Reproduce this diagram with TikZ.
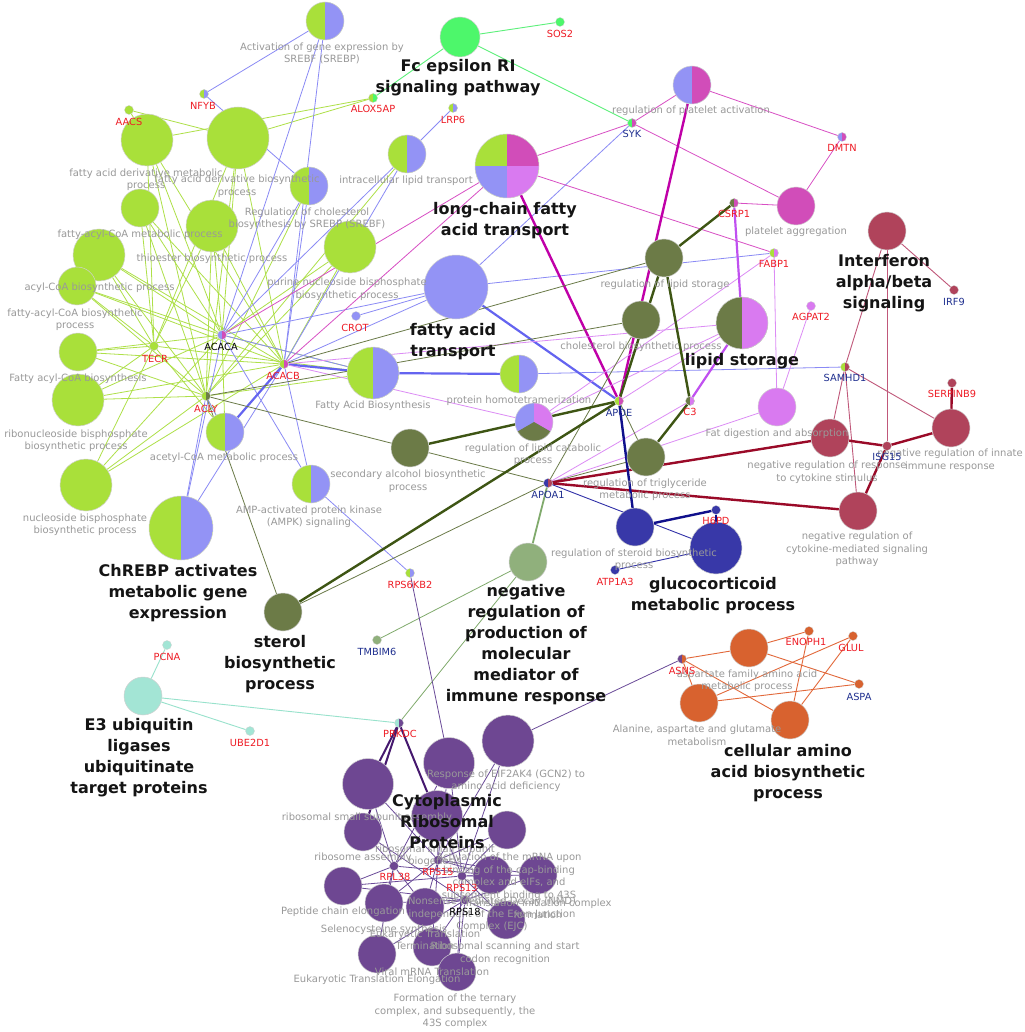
\documentclass[tikz,border=0pt]{standalone}
\usepackage{fontspec}
\setmainfont{DejaVu Sans}
\usetikzlibrary{calc}
\definecolor{cLime}{HTML}{A9E03A}
\definecolor{cPeri}{HTML}{9393F5}
\definecolor{cMag}{HTML}{D14DB9}
\definecolor{cOrch}{HTML}{D97AF0}
\definecolor{cOlive}{HTML}{6C7B47}
\definecolor{cFce}{HTML}{4DF76B}
\definecolor{cMar}{HTML}{B0435B}
\definecolor{cDblue}{HTML}{3838A8}
\definecolor{cSage}{HTML}{90B07C}
\definecolor{cOrange}{HTML}{D8622F}
\definecolor{cPurp}{HTML}{6E4792}
\definecolor{cMint}{HTML}{A3E5D5}
\definecolor{labgray}{HTML}{999999}
\definecolor{genered}{HTML}{EE1C25}
\definecolor{geneblue}{HTML}{1F2F8F}
\definecolor{lnLime}{HTML}{AEE048}
\definecolor{lnPeri}{HTML}{8A8AF5}
\definecolor{lnPeriK}{HTML}{6464F0}
\definecolor{lnMag}{HTML}{D84FC4}
\definecolor{lnMagK}{HTML}{C000A8}
\definecolor{lnOrch}{HTML}{DC8CF5}
\definecolor{lnOrchK}{HTML}{C050F0}
\definecolor{lnOlive}{HTML}{6A7A48}
\definecolor{lnOliveK}{HTML}{3E5514}
\definecolor{lnMar}{HTML}{C0587A}
\definecolor{lnMarK}{HTML}{9A0A28}
\definecolor{lnBlue}{HTML}{3030A8}
\definecolor{lnBlueK}{HTML}{10108C}
\definecolor{lnSage}{HTML}{80AA6C}
\definecolor{lnMint}{HTML}{98E2CC}
\definecolor{lnPur}{HTML}{6A4A98}
\definecolor{lnPurK}{HTML}{45186E}
\definecolor{lnOrange}{HTML}{E2683A}
\definecolor{lnFce}{HTML}{5CF07A}
\pgfdeclarelayer{bg}
\pgfdeclarelayer{edges}
\pgfdeclarelayer{labels}
\pgfsetlayers{bg,edges,main,labels}
\begin{document}
\begin{tikzpicture}[x=1pt,y=-1pt,
  term/.style={circle,inner sep=0pt,draw=black!18,line width=0.5pt},
  gene/.style={circle,inner sep=0pt,minimum size=9pt,draw=black!18,line width=0.3pt},
  halves/.style 2 args={fill=#1,path picture={\fill[#2] (path picture bounding box.north) rectangle (path picture bounding box.south east);}},
  glab/.style={font=\fontsize{10}{12.5}\selectfont,text=labgray,align=center,inner sep=0pt},
  blab/.style={font=\fontsize{16}{21}\selectfont\bfseries,text=black!92,align=center,inner sep=0pt},
  rlab/.style={font=\fontsize{9.8}{11}\selectfont,text=genered,inner sep=0pt},
  nlab/.style={font=\fontsize{9.8}{11}\selectfont,text=geneblue,inner sep=0pt},
  klab/.style={font=\fontsize{9.8}{11}\selectfont,text=black,inner sep=0pt},
  eLime/.style={draw=lnLime,line width=0.8pt},
  ePeri/.style={draw=lnPeri,line width=0.8pt},
  ePeriK/.style={draw=lnPeriK,line width=2.2pt},
  eMag/.style={draw=lnMag,line width=0.8pt},
  eMagK/.style={draw=lnMagK,line width=2.4pt},
  eOrch/.style={draw=lnOrch,line width=0.8pt},
  eOrchK/.style={draw=lnOrchK,line width=2.2pt},
  eOlive/.style={draw=lnOlive,line width=0.8pt},
  eOliveK/.style={draw=lnOliveK,line width=2.4pt},
  eMar/.style={draw=lnMar,line width=0.9pt},
  eMarK/.style={draw=lnMarK,line width=2.4pt},
  eBlue/.style={draw=lnBlue,line width=0.9pt},
  eBlueK/.style={draw=lnBlueK,line width=2.4pt},
  eSage/.style={draw=lnSage,line width=0.8pt},
  eSageK/.style={draw=lnSage,line width=1.8pt},
  eMint/.style={draw=lnMint,line width=0.9pt},
  ePur/.style={draw=lnPur,line width=0.8pt},
  ePurK/.style={draw=lnPurK,line width=2.0pt},
  eOrange/.style={draw=lnOrange,line width=0.9pt},
  eFce/.style={draw=lnFce,line width=0.9pt}
]
\begin{pgfonlayer}{bg}
\fill[white] (0,0) rectangle (1024,1032);
\end{pgfonlayer}
\useasboundingbox (0,0) rectangle (1024,1032);

% ---- term nodes ----
\node[term,minimum size=38pt,halves={cLime}{cPeri}] (act) at (325,21) {};
\node[term,minimum size=40pt,fill=cFce] (fce) at (460,37) {};
\node[term,minimum size=52pt,fill=cLime] (fadm) at (147,140) {};
\node[term,minimum size=62pt,fill=cLime] (fadb) at (238,138) {};
\node[term,minimum size=38pt,halves={cLime}{cPeri}] (regchol) at (309,186) {};
\node[term,minimum size=38pt,halves={cLime}{cPeri}] (ilt) at (407,154) {};
\node[term,minimum size=64pt,fill=cLime,path picture={
  \fill[cMag] (path picture bounding box.center) rectangle (path picture bounding box.north east);
  \fill[cPeri] (path picture bounding box.center) rectangle (path picture bounding box.south west);
  \fill[cOrch] (path picture bounding box.center) rectangle (path picture bounding box.south east);}] (lcfa) at (507,166) {};
\node[term,minimum size=38pt,halves={cPeri}{cMag}] (platact) at (692,85) {};
\node[term,minimum size=38pt,fill=cMag] (platagg) at (796,206) {};
\node[term,minimum size=38pt,fill=cMar] (ifn) at (887,231) {};
\node[term,minimum size=38pt,fill=cOlive] (reglip) at (664,258) {};
\node[term,minimum size=38pt,fill=cOlive] (cholb) at (641,320) {};
\node[term,minimum size=52pt,halves={cOlive}{cOrch}] (lipst) at (742,323) {};
\node[term,minimum size=64pt,fill=cPeri] (fat) at (456,287) {};
\node[term,minimum size=52pt,fill=cLime] (purine) at (350,247) {};
\node[term,minimum size=52pt,fill=cLime] (thio) at (212,226) {};
\node[term,minimum size=38pt,fill=cLime] (facm) at (140,208) {};
\node[term,minimum size=52pt,fill=cLime] (acyl) at (99,255) {};
\node[term,minimum size=38pt,fill=cLime] (facb) at (77,286) {};
\node[term,minimum size=38pt,fill=cLime] (facbs) at (78,352) {};
\node[term,minimum size=52pt,fill=cLime] (ribo) at (78,400) {};
\node[term,minimum size=52pt,fill=cLime] (nucl) at (86,485) {};
\node[term,minimum size=52pt,halves={cLime}{cPeri}] (fab) at (373,373) {};
\node[term,minimum size=38pt,halves={cLime}{cPeri}] (pht) at (519,374) {};
\node[term,minimum size=38pt,halves={cLime}{cPeri}] (acet) at (225,432) {};
\node[term,minimum size=38pt,halves={cLime}{cPeri}] (ampk) at (311,484) {};
\node[term,minimum size=64pt,halves={cLime}{cPeri}] (chrebp) at (181,528) {};
\node[term,minimum size=38pt,fill=cOlive] (secalc) at (410,448) {};
\node[term,minimum size=38pt,fill=cPeri,path picture={
  \fill[cOrch] (path picture bounding box.center) -- ++(0,-40) -- ++(40,0) -- ++(0,63.09) -- cycle;
  \fill[cOlive] (path picture bounding box.center) -- ++(40,23.09) -- ++(0,16.91) -- ++(-80,0) -- ++(0,-16.91) -- cycle;}] (lipcat) at (534,422) {};
\node[term,minimum size=38pt,fill=cOrch] (fatdig) at (777,407) {};
\node[term,minimum size=38pt,fill=cMar] (nrrc) at (830,438) {};
\node[term,minimum size=38pt,fill=cMar] (nrii) at (951,428) {};
\node[term,minimum size=38pt,fill=cMar] (nrcm) at (858,511) {};
\node[term,minimum size=38pt,fill=cOlive] (trig) at (646,457) {};
\node[term,minimum size=38pt,fill=cDblue] (steroid) at (635,527) {};
\node[term,minimum size=52pt,fill=cDblue] (gluco) at (716,548) {};
\node[term,minimum size=38pt,fill=cSage] (nrpm) at (528,562) {};
\node[term,minimum size=38pt,fill=cOlive] (sterol) at (283,612) {};
\node[term,minimum size=38pt,fill=cMint] (e3) at (143,696) {};
\node[term,minimum size=38pt,fill=cOrange] (aspf) at (749,648) {};
\node[term,minimum size=38pt,fill=cOrange] (ala) at (699,703) {};
\node[term,minimum size=38pt,fill=cOrange] (caab) at (790,720) {};
% ribosomal
\node[term,minimum size=51pt,fill=cPurp] (ribA) at (368,784) {};
\node[term,minimum size=51pt,fill=cPurp] (ribB) at (449,763) {};
\node[term,minimum size=52pt,fill=cPurp] (ribC) at (508,741) {};
\node[term,minimum size=51pt,fill=cPurp] (ribD) at (437,816) {};
\node[term,minimum size=38pt,fill=cPurp] (ribE) at (363,832) {};
\node[term,minimum size=38pt,fill=cPurp] (ribF) at (507,830) {};
\node[term,minimum size=38pt,fill=cPurp] (ribG) at (343,886) {};
\node[term,minimum size=38pt,fill=cPurp] (ribH) at (384,903) {};
\node[term,minimum size=38pt,fill=cPurp] (ribI) at (425,907) {};
\node[term,minimum size=38pt,fill=cPurp] (ribJ) at (492,875) {};
\node[term,minimum size=38pt,fill=cPurp] (ribK) at (538,875) {};
\node[term,minimum size=38pt,fill=cPurp] (ribL) at (506,920) {};
\node[term,minimum size=38pt,fill=cPurp] (ribM) at (377,954) {};
\node[term,minimum size=38pt,fill=cPurp] (ribN) at (432,947) {};
\node[term,minimum size=38pt,fill=cPurp] (ribO) at (457,972) {};

% ---- gene nodes ----
\node[gene,fill=cFce] (sos2) at (560,22) {};
\node[gene,halves={cLime}{cPeri}] (nfyb) at (204,94) {};
\node[gene,fill=cLime] (aacs) at (129,110) {};
\node[gene,halves={cLime}{cFce}] (alox) at (373,98) {};
\node[gene,halves={cLime}{cPeri}] (lrp6) at (453,108) {};
\node[gene,halves={cFce}{cMag}] (syk) at (632,123) {};
\node[gene,halves={cPeri}{cMag}] (dmtn) at (842,137) {};
\node[gene,halves={cOlive}{cMag}] (csrp1) at (734,203) {};
\node[gene,halves={cLime}{cOrch}] (fabp1) at (774,253) {};
\node[gene,fill=cOrch] (agpat2) at (811,306) {};
\node[gene,fill=cMar] (irf9) at (954,290) {};
\node[gene,fill=cPeri] (crot) at (356,316) {};
\node[gene,halves={cPeri}{cMag}] (acaca) at (222,335) {};
\node[gene,fill=cLime] (tecr) at (154,346) {};
\node[gene,halves={cLime}{cMag}] (acacb) at (284,364) {};
\node[gene,halves={cLime}{cOlive}] (acly) at (206,396) {};
\node[gene,halves={cLime}{cMag}] (apoe) at (619,401) {};
\node[gene,halves={cOlive}{cOrch}] (c3) at (690,401) {};
\node[gene,halves={cLime}{cMar}] (samhd1) at (845,367) {};
\node[gene,fill=cMar] (serpinb9) at (952,383) {};
\node[gene,fill=cMar] (isg15) at (887,446) {};
\node[gene,halves={cDblue}{cMar}] (apoa1) at (548,483) {};
\node[gene,fill=cDblue] (h6pd) at (716,510) {};
\node[gene,fill=cDblue] (atp1a3) at (615,570) {};
\node[gene,halves={cLime}{cPeri}] (rps6kb2) at (410,573) {};
\node[gene,fill=cSage] (tmbim6) at (377,640) {};
\node[gene,fill=cMint] (pcna) at (167,645) {};
\node[gene,fill=cMint] (ube2d1) at (250,731) {};
\node[gene,halves={cMint}{cPurp}] (prkdc) at (399,723) {};
\node[gene,halves={cPurp}{cOrange}] (asns) at (682,659) {};
\node[gene,fill=cOrange] (enoph1) at (809,631) {};
\node[gene,fill=cOrange] (glul) at (853,636) {};
\node[gene,fill=cOrange] (aspa) at (859,684) {};
\node[gene,fill=cPurp] (rpl38) at (394,866) {};
\node[gene,fill=cPurp] (rps15) at (438,860) {};
\node[gene,fill=cPurp] (rps13) at (462,876) {};
\node[gene,fill=cPurp] (rps18) at (465,900) {};

% ---- edges ----
\begin{pgfonlayer}{edges}
\draw[eFce] (fce) -- (sos2);
\draw[eFce] (fce) -- (alox);
\draw[eFce] (fce) -- (syk);
\foreach \t in {fadm,fadb,thio,facm,acyl,facb,facbs,ribo,nucl}
  \foreach \h in {tecr,acaca,acly,acacb}
    \draw[eLime] (\t) -- (\h);
\foreach \h in {acaca,acly,acacb}
  \draw[eLime] (purine) -- (\h);
\draw[eLime] (alox) -- (fadm);
\draw[eLime] (alox) -- (fadb);
\draw[eLime] (aacs) -- (fadb);
\draw[eLime] (aacs) -- (fadm);
\draw[eLime] (acet) -- (acly);
\draw[eLime] (acet) -- (acaca);
\draw[eLime] (acet) -- (tecr);
\draw[eLime] (fab) -- (acaca);
\draw[eLime] (fab) -- (acly);
\draw[eLime] (fab) -- (tecr);
\draw[eLime] (regchol) -- (acly);
\draw[eLime] (ilt) -- (acly);
% periwinkle
\draw[ePeri] (act) -- (nfyb);
\draw[ePeri] (act) -- (acaca);
\draw[ePeri] (act) -- (acacb);
\draw[ePeri] (nfyb) -- (regchol);
\draw[ePeri] (regchol) -- (acaca);
\draw[ePeri] (regchol) -- (acacb);
\draw[ePeri] (lrp6) -- (ilt);
\draw[ePeri] (ilt) -- (acaca);
\draw[ePeri] (ilt) -- (acacb);
\draw[ePeri] (fat) -- (crot);
\draw[ePeri] (fat) -- (acaca);
\draw[ePeri] (fat) -- (acacb);
\draw[ePeri] (syk) -- (fat);
\draw[ePeri] (fat) -- (fabp1);
\draw[ePeri] (fab) -- (acaca);
\draw[ePeri] (pht) -- (samhd1);
\draw[ePeri] (acet) -- (acly);
\draw[ePeri] (chrebp) -- (acaca);
\draw[ePeri] (chrebp) -- (acly);
\draw[ePeri] (chrebp) -- (acacb);
\draw[ePeri] (ampk) -- (acaca);
\draw[ePeri] (ampk) -- (acacb);
\draw[ePeri] (ampk) -- (rps6kb2);
\draw[ePeriK] (fat) -- (apoe);
\draw[ePeriK] (fab) -- (acacb);
\draw[ePeriK] (fab) -- (pht);
\draw[ePeriK] (acet) -- (acacb);
% magenta
\draw[eMag] (syk) -- (platact);
\draw[eMag] (syk) -- (platagg);
\draw[eMag] (syk) -- (lcfa);
\draw[eMag] (platact) -- (dmtn);
\draw[eMag] (dmtn) -- (platagg);
\draw[eMag] (csrp1) -- (platagg);
\draw[eMag] (lcfa) -- (fabp1);
\draw[eMag] (lcfa) -- (acacb);
\draw[eMag] (acaca) -- (lcfa);
\draw[eMagK] (platact) -- (apoe);
\draw[eMagK] (lcfa) -- (apoe);
% orchid
\draw[eOrch] (fabp1) -- (fatdig);
\draw[eOrch] (agpat2) -- (fatdig);
\draw[eOrch] (apoa1) -- (fatdig);
\draw[eOrch] (apoa1) -- (c3);
\draw[eOrch] (fabp1) -- (lipcat);
\draw[eOrch] (acacb) -- (lipcat);
\draw[eOrch] (lipcat) -- (lipst);
\draw[eOrch] (apoe) -- (lipst);
\draw[eOrch] (acacb) -- (lipst);
\draw[eOrchK] (csrp1) -- (lipst);
\draw[eOrchK] (c3) -- (lipst);
% olive
\draw[eOlive] (acly) -- (sterol);
\draw[eOlive] (acly) -- (apoa1);
\draw[eOlive] (acly) -- (cholb);
\draw[eOlive] (acacb) -- (reglip);
\draw[eOlive] (apoe) -- (trig);
\draw[eOlive] (trig) -- (apoa1);
\draw[eOlive] (apoa1) -- (cholb);
\draw[eOlive] (sterol) -- (apoa1);
\draw[eOliveK] (sterol) -- (apoe);
\draw[eOliveK] (secalc) -- (apoe);
\draw[eOliveK] (reglip) -- (csrp1);
\draw[eOliveK] (reglip) -- (apoe);
\draw[eOliveK] (reglip) -- (c3);
\draw[eOliveK] (trig) -- (c3);
% maroon
\draw[eMar] (ifn) -- (irf9);
\draw[eMar] (ifn) -- (samhd1);
\draw[eMar] (ifn) -- (isg15);
\draw[eMar] (samhd1) -- (nrrc);
\draw[eMar] (samhd1) -- (nrcm);
\draw[eMar] (samhd1) -- (nrii);
\draw[eMarK] (isg15) -- (nrrc);
\draw[eMarK] (isg15) -- (nrii);
\draw[eMarK] (isg15) -- (nrcm);
\draw[eMarK] (serpinb9) -- (nrii);
\draw[eMarK] (apoa1) -- (nrrc);
\draw[eMarK] (apoa1) -- (nrcm);
% blue
\draw[eBlue] (apoa1) -- (gluco);
\draw[eBlue] (atp1a3) -- (gluco);
\draw[eBlueK] (apoe) -- (steroid);
\draw[eBlueK] (steroid) -- (h6pd);
\draw[eBlueK] (h6pd) -- (gluco);
% sage, mint
\draw[eSageK] (apoa1) -- (nrpm);
\draw[eSage] (nrpm) -- (tmbim6);
\draw[eSage] (nrpm) -- (prkdc);
\draw[eMint] (e3) -- (pcna);
\draw[eMint] (e3) -- (ube2d1);
\draw[eMint] (e3) -- (prkdc);
% purple
\draw[ePur] (asns) -- (ribC);
\draw[ePur] (rps6kb2) -- (ribB);
\foreach \t in {ribA,ribB,ribD,ribE,ribG,ribH,ribI,ribM,ribJ}
  \draw[ePur] (rpl38) -- (\t);
\foreach \t in {ribA,ribB,ribC,ribD,ribF,ribH,ribI,ribJ,ribN,ribK}
  \draw[ePur] (rps15) -- (\t);
\foreach \t in {ribB,ribC,ribD,ribF,ribG,ribJ,ribK,ribL,ribO}
  \draw[ePur] (rps13) -- (\t);
\foreach \t in {ribE,ribG,ribH,ribI,ribJ,ribK,ribL,ribM,ribN,ribO}
  \draw[ePur] (rps18) -- (\t);
\draw[ePurK] (prkdc) -- (ribA);
\draw[ePurK] (prkdc) -- (ribE);
\draw[ePurK] (prkdc) -- (ribD);
% orange
\draw[eOrange] (asns) -- (aspf);
\draw[eOrange] (asns) -- (ala);
\draw[eOrange] (asns) -- (caab);
\draw[eOrange] (aspf) -- (enoph1);
\draw[eOrange] (aspf) -- (aspa);
\draw[eOrange] (ala) -- (glul);
\draw[eOrange] (ala) -- (aspa);
\draw[eOrange] (caab) -- (enoph1);
\draw[eOrange] (caab) -- (glul);
\end{pgfonlayer}

% ---- labels ----
\begin{pgfonlayer}{labels}
\node[glab] (t1) at (322,53.5) {Activation of gene expression by\\SREBF (SREBP)};
\node[glab] (t2) at (146,179.5) {fatty acid derivative metabolic\\process};
\node[glab] (t3) at (237,186) {fatty acid derivative biosynthetic\\process};
\node[glab] (t4) at (307,218.5) {Regulation of cholesterol\\biosynthesis by SREBP (SREBF)};
\node[glab] (t5) at (406,181) {intracellular lipid transport};
\node[glab] (t6) at (691,111) {regulation of platelet activation};
\node[glab] (t7) at (796,232) {platelet aggregation};
\node[glab] (t8) at (665,285) {regulation of lipid storage};
\node[glab] (t9) at (641,347) {cholesterol biosynthetic process};
\node[glab] (t10) at (347,289) {purine nucleoside bisphosphate\\biosynthetic process};
\node[glab] (t11) at (212,259) {thioester biosynthetic process};
\node[glab] (t12) at (140,235) {fatty-acyl-CoA metabolic process};
\node[glab] (t13) at (99.5,288) {acyl-CoA biosynthetic process};
\node[glab] (t14) at (75,319.5) {fatty-acyl-CoA biosynthetic\\process};
\node[glab] (t15) at (78,379) {Fatty acyl-CoA biosynthesis};
\node[glab] (t16) at (76,440.5) {ribonucleoside bisphosphate\\biosynthetic process};
\node[glab] (t17) at (85,524.5) {nucleoside bisphosphate\\biosynthetic process};
\node[glab] (t18) at (224,458) {acetyl-CoA metabolic process};
\node[glab] (t19) at (309,516.5) {AMP-activated protein kinase\\(AMPK) signaling};
\node[glab] (t20) at (373,406) {Fatty Acid Biosynthesis};
\node[glab] (t21) at (519,401) {protein homotetramerization};
\node[glab] (t22) at (408,481) {secondary alcohol biosynthetic\\process};
\node[glab] (t23) at (533,454.5) {regulation of lipid catabolic\\process};
\node[glab] (t24) at (645,489.5) {regulation of triglyceride\\metabolic process};
\node[glab] (t25) at (777,434) {Fat digestion and absorption};
\node[glab] (t26) at (827,472) {negative regulation of response\\to cytokine stimulus};
\node[glab] (t27) at (950,460) {negative regulation of innate\\immune response};
\node[glab] (t28) at (857,549.5) {negative regulation of\\cytokine-mediated signaling\\pathway};
\node[glab] (t29) at (634,559.5) {regulation of steroid biosynthetic\\process};
\node[glab] (t30) at (747,680.5) {aspartate family amino acid\\metabolic process};
\node[glab] (t31) at (697,735.5) {Alanine, aspartate and glutamate\\metabolism};
\node[glab] (t32) at (367,818) {ribosomal small subunit assembly};
\node[glab] (t33) at (506,780.5) {Response of EIF2AK4 (GCN2) to\\amino acid deficiency};
\node[glab] (t34) at (435,855.5) {ribosomal small subunit\\biogenesis};
\node[glab] (t35) at (363,858) {ribosome assembly};
\node[glab] (t36) at (509,876.5) {Activation of the mRNA upon\\binding of the cap-binding\\complex and eIFs, and\\subsequent binding to 43S};
\node[glab] (t37) at (343,912) {Peptide chain elongation};
\node[glab] (t38) at (384,930) {Selenocysteine synthesis};
\node[glab] (t39) at (425,940) {Eukaryotic Translation\\Termination};
\node[glab] (t40) at (492,914.5) {Nonsense Mediated Decay (NMD)\\independent of the Exon Junction\\Complex (EJC)};
\node[glab] (t41) at (538,909) {Translation initiation complex\\formation};
\node[glab] (t42) at (505,953) {Ribosomal scanning and start\\codon recognition};
\node[glab] (t43) at (377,980) {Eukaryotic Translation Elongation};
\node[glab] (t44) at (432,972) {Viral mRNA Translation};
\node[glab] (t45) at (455,1011.5) {Formation of the ternary\\complex, and subsequently, the\\43S complex};
% bold
\node[blab] (b1) at (458,77.5) {Fc epsilon RI\\signaling pathway};
\node[blab] (b2) at (505,220.5) {long-chain fatty\\acid transport};
\node[blab] (b3) at (884,283) {Interferon\\alpha/beta\\signaling};
\node[blab] (b4) at (742,361) {lipid storage};
\node[blab] (b5) at (453,342) {fatty acid\\transport};
\node[blab] (b6) at (178,593.5) {ChREBP activates\\metabolic gene\\expression};
\node[blab] (b7) at (713,595.5) {glucocorticoid\\metabolic process};
\node[blab] (b8) at (526,645) {negative\\regulation of\\production of\\molecular\\mediator of\\immune response};
\node[blab] (b9) at (280,664) {sterol\\biosynthetic\\process};
\node[blab] (b10) at (139,758) {E3 ubiquitin\\ligases\\ubiquitinate\\target proteins};
\node[blab] (b11) at (788,773) {cellular amino\\acid biosynthetic\\process};
\node[blab] (b12) at (447,822) {Cytoplasmic\\Ribosomal\\Proteins};
% gene labels
\node[rlab] (g1) at (560,34) {SOS2};
\node[rlab] (g2) at (203,106) {NFYB};
\node[rlab] (g3) at (129,122) {AACS};
\node[rlab] (g4) at (373,109) {ALOX5AP};
\node[rlab] (g5) at (453,120) {LRP6};
\node[nlab] (g6) at (632,134) {SYK};
\node[rlab] (g7) at (842,148) {DMTN};
\node[rlab] (g8) at (734,214) {CSRP1};
\node[rlab] (g9) at (774,264) {FABP1};
\node[rlab] (g10) at (811,317) {AGPAT2};
\node[nlab] (g11) at (954,302) {IRF9};
\node[rlab] (g12) at (355,328) {CROT};
\node[klab] (g13) at (221,347) {ACACA};
\node[rlab] (g14) at (155,359) {TECR};
\node[rlab] (g15) at (283,376) {ACACB};
\node[rlab] (g16) at (206,409) {ACLY};
\node[nlab] (g17) at (619,413) {APOE};
\node[rlab] (g18) at (690,412) {C3};
\node[nlab] (g19) at (845,378) {SAMHD1};
\node[rlab] (g20) at (952,394) {SERPINB9};
\node[nlab] (g21) at (887,457) {ISG15};
\node[nlab] (g22) at (548,495) {APOA1};
\node[rlab] (g23) at (716,521) {H6PD};
\node[rlab] (g24) at (615,582) {ATP1A3};
\node[rlab] (g25) at (410,585) {RPS6KB2};
\node[nlab] (g26) at (377,652) {TMBIM6};
\node[rlab] (g27) at (167,657) {PCNA};
\node[rlab] (g28) at (250,743) {UBE2D1};
\node[rlab] (g29) at (400,734) {PRKDC};
\node[rlab] (g30) at (682,671) {ASNS};
\node[rlab] (g31) at (806,642) {ENOPH1};
\node[rlab] (g32) at (851,648) {GLUL};
\node[nlab] (g33) at (859,697) {ASPA};
\node[rlab] (g34) at (395,877) {RPL38};
\node[rlab] (g35) at (438,872) {RPS15};
\node[rlab] (g36) at (462,888) {RPS13};
\node[klab] (g37) at (465,912) {RPS18};
\end{pgfonlayer}
\end{tikzpicture}
\end{document}
